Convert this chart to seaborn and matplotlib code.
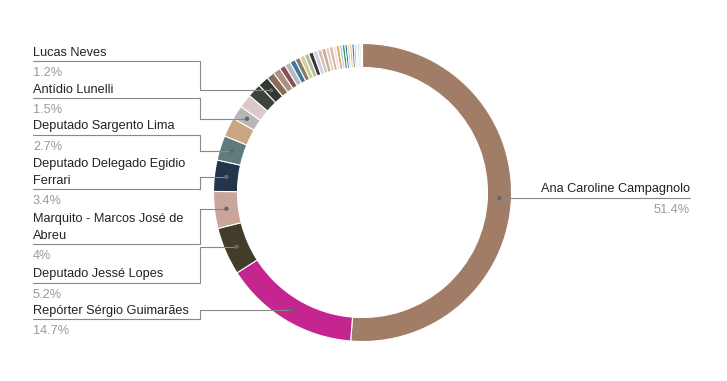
import matplotlib
matplotlib.use('Agg')
import matplotlib.pyplot as plt
import numpy as np
import seaborn as sns

# fatias na ordem horaria a partir do topo (percentual de votos)
valores = [51.4, 14.7, 5.2, 4.0, 3.4, 2.7, 2.1, 1.5, 1.5, 1.5, 1.2,
           0.85, 0.8, 0.65, 0.65, 0.6, 0.55, 0.55, 0.5,
           0.5, 0.5, 0.45, 0.45, 0.4, 0.4, 0.35, 0.35, 0.3, 0.3, 0.25, 0.25,
           0.25, 0.25, 0.2, 0.2, 0.2, 0.15, 0.15]
rotulos = ['Ana Caroline Campagnolo', 'Repórter Sérgio Guimarães',
           'Deputado Jessé Lopes', 'Marquito - Marcos José de\nAbreu',
           'Deputado Delegado Egidio\nFerrari', 'Deputado Sargento Lima', '',
           'Antídio Lunelli', '', '', 'Lucas Neves'] + [''] * 27
cores = ['#a17d68', '#c4258f', '#423c2b', '#c9a59a', '#22354b', '#5f7b7b',
         '#c9a582', '#b7b7b9', '#dbc9cc', '#3d423b', '#2f3b32',
         '#8a6d54', '#a89381', '#8b4f57', '#b8b9bc', '#3a7a9e', '#8a7b67',
         '#d5d092', '#a9c2a5', '#3b3532', '#cfd0e0', '#d6c1ba', '#c9aa9d',
         '#e2cfc8', '#d5b8a6', '#ece4dc', '#e4a466', '#b9cfe4', '#33a04a',
         '#2f5fa0', '#c6d6e6', '#eec64a', '#2d68bd', '#9a9a9a', '#e9e9e3',
         '#8dc6b5', '#b0b0b0', '#dde3e8']

# altura (px) da linha de cada rotulo
linha_y = {1: 319.3, 2: 282.7, 3: 244.3, 4: 189.0, 5: 135.0, 7: 98.3, 10: 61.0}

sns.set_style('white')
plt.rcParams['font.family'] = ['Liberation Sans', 'DejaVu Sans']

fig = plt.figure(figsize=(7.27, 3.81), dpi=100)
ax = fig.add_axes([0, 0, 1, 1])
cx, cy, R, W = 362.5, 192.5, 149, 24
wedges, _ = ax.pie(valores, colors=cores, startangle=270, counterclock=True,
                   center=(cx, cy), radius=R,
                   wedgeprops=dict(width=W, edgecolor='white', linewidth=0.8))

fs = 9.2
pontos_x, pontos_y = [], []
for i, (w, nome) in enumerate(zip(wedges, rotulos)):
    if not nome:
        continue
    meio = np.deg2rad((w.theta1 + w.theta2) / 2)
    px = cx + (R - W / 2) * np.cos(meio)
    py = cy + (R - W / 2) * np.sin(meio)
    pontos_x.append(px)
    pontos_y.append(py)
    pct = '{:g}%'.format(valores[i])
    linhas = nome.split('\n')
    if i == 0:
        # rotulo a direita
        ly = py
        ax.plot([px, 690], [ly, ly], color='#888888', lw=0.8, zorder=3)
        ax.text(690, ly - 6.3, linhas[0], ha='right', va='baseline',
                fontsize=fs, color='#222222')
        ax.text(690, ly + 15, pct, ha='right', va='baseline',
                fontsize=fs, color='#999999')
        continue
    ly = linha_y[i]
    ax.plot([33, 200, 200, px], [ly, ly, py, py], color='#888888', lw=0.8,
            zorder=3)
    for k, t in enumerate(linhas[::-1]):
        ax.text(33, ly - 5.5 - 16.6 * k, t, ha='left', va='baseline',
                fontsize=fs, color='#222222')
    ax.text(33, ly + 15, pct, ha='left', va='baseline', fontsize=fs,
            color='#999999')

sns.scatterplot(x=pontos_x, y=pontos_y, ax=ax, color='#666666', s=10,
                edgecolor='none', zorder=5)

ax.set_xlim(0, 727)
ax.set_ylim(381, 0)
ax.set_aspect('equal')
ax.axis('off')
fig.savefig('out.png', dpi=100)
